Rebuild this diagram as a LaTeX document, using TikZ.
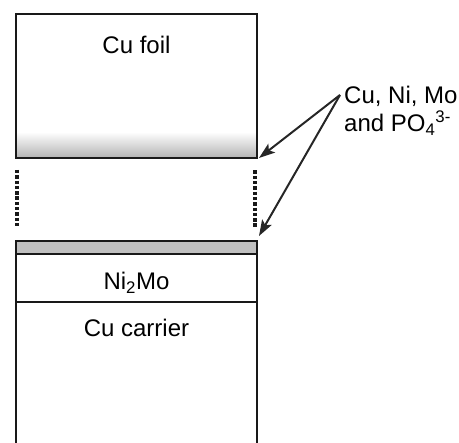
\documentclass[tikz,border=0pt]{standalone}
\usepackage{fontspec}
\setmainfont{Liberation Sans}
\usetikzlibrary{arrows.meta}
\definecolor{stripgray}{HTML}{C0C0C0}
\begin{document}
\begin{tikzpicture}[x=1pt,y=-1pt,
  box/.style={line width=2pt,draw=black!90},
  lbl/.style={inner sep=0pt,font=\fontsize{24}{29}\selectfont},
  dotline/.style={line width=3.6pt,dash pattern=on 3.4pt off 1.9pt,black!90},
  arr/.style={line width=2pt,draw=black!85,-{Stealth[length=16pt,width=11pt,inset=3.5pt]}}]
\useasboundingbox (0,0) rectangle (459,443);
% top Cu foil box
\shade[top color=white,bottom color=black!30] (16,132) rectangle (257,158);
\draw[box] (16,14) rectangle (257,158);
\node[lbl,anchor=base] (foil) at (136.5,53.3) {Cu foil};
% dotted separators
\draw[dotline] (17,170) -- (17,228);
\draw[dotline] (254.7,170.5) -- (254.7,228);
% bottom stack
\fill[stripgray] (16,241) rectangle (257,254);
\draw[box] (16,254) -- (257,254);
\draw[box] (16,302) -- (257,302);
\draw[box] (16,450) -- (16,241) -- (257,241) -- (257,450);
\node[lbl,anchor=base] (nimo) at (136.5,290) {Ni\textsubscript{2}Mo};
\node[lbl,anchor=base] (carrier) at (136.5,336.7) {Cu carrier};
% label and arrows
\node[lbl,anchor=base west] (lab1) at (344,103.3) {Cu, Ni, Mo};
\node[lbl,anchor=base west] (lab2) at (344,131.5) {and PO\textsubscript{4}\textsuperscript{3-}};
\coordinate (src) at (340,95);
\coordinate (t1) at (259,158);
\coordinate (t2) at (259,236);
\draw[arr] (src) -- (t1);
\draw[arr] (src) -- (t2);
\end{tikzpicture}
\end{document}
